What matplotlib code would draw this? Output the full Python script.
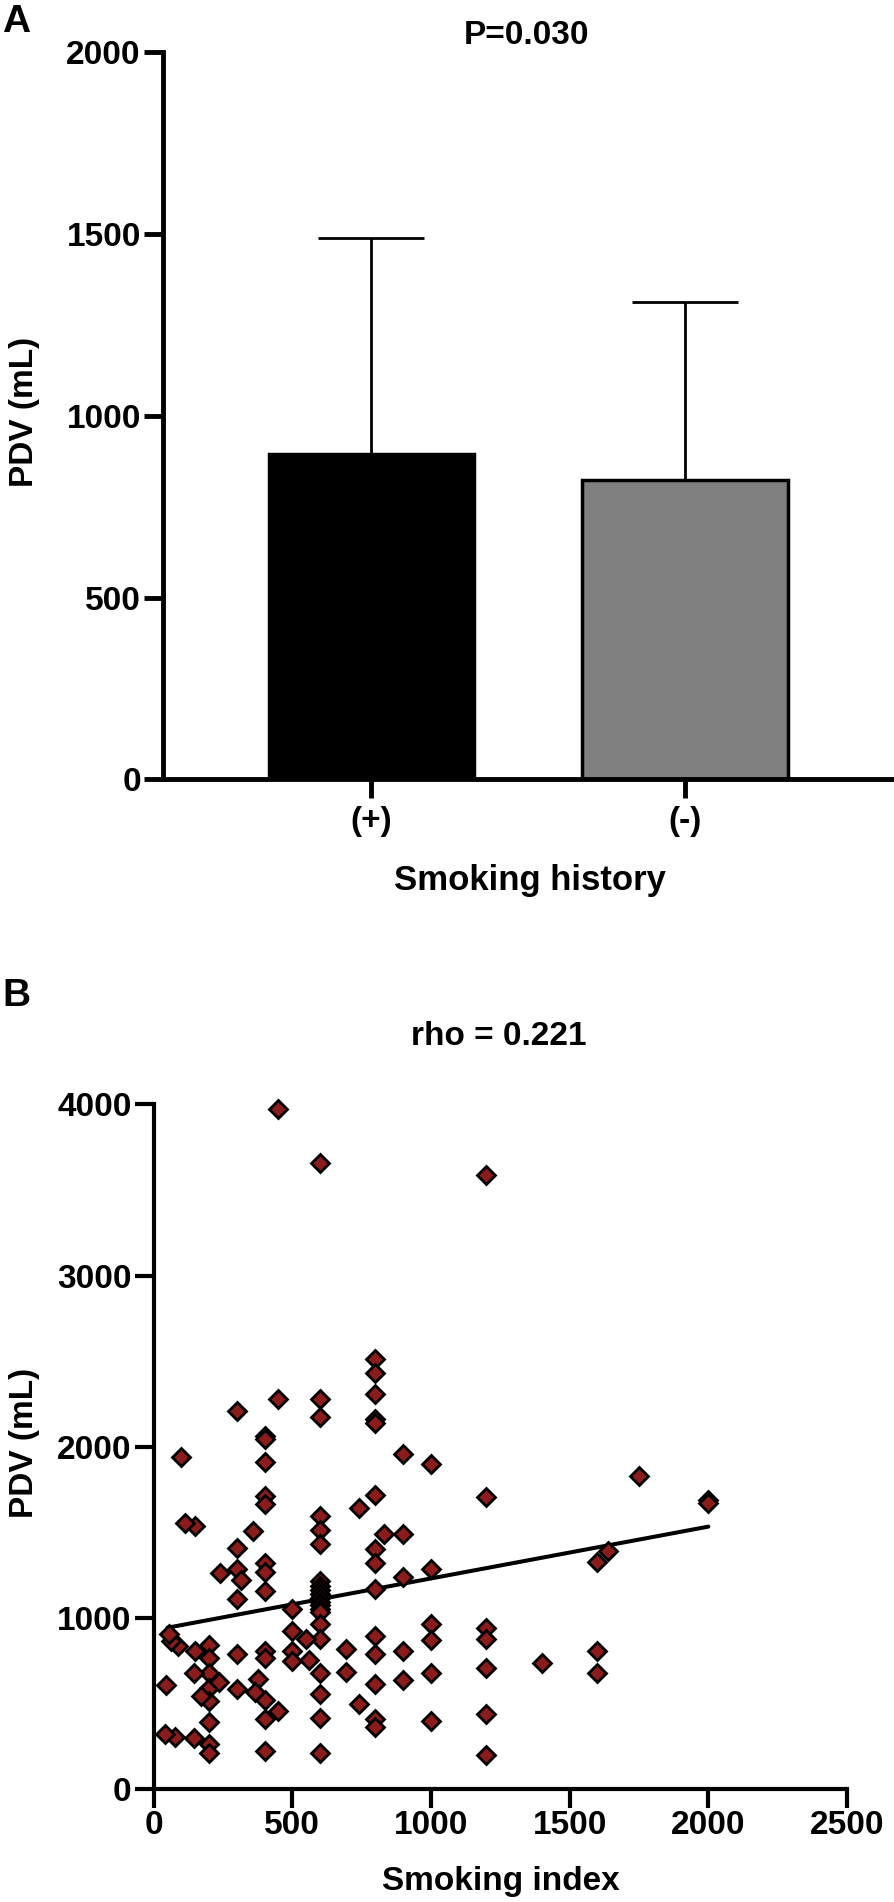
import numpy as np
import matplotlib
matplotlib.use("Agg")
import matplotlib.pyplot as plt

plt.rcParams['font.family'] = ['Liberation Sans', 'DejaVu Sans']
plt.rcParams['font.weight'] = 'bold'

# Panel A: PDV by smoking history (mean + SD)
groups = ['(+)', '(-)']
pdv_mean = [895, 824]
pdv_sd = [594, 488]
bar_colors = ['black', '#808080']

# Panel B: PDV vs smoking index
smoking_index = [
    800, 800, 800, 800, 800, 800, 800, 800, 800, 800, 800, 800, 800, 800,
    600, 600, 600, 600, 600, 600, 600, 600, 600, 600, 600, 600, 600, 600,
    600, 600, 600, 600, 600, 600, 600,
    400, 400, 400, 400, 400, 400, 400, 400, 400, 400, 400, 400, 400,
    200, 200, 200, 200, 200, 200, 200, 200,
    300, 300, 300, 300, 300, 300,
    500, 500, 500, 500,
    900, 900, 900, 900, 900,
    1000, 1000, 1000, 1000, 1000, 1000,
    1200, 1200, 1200, 1200, 1200, 1200, 1200,
    1600, 1600, 1600,
    2000, 2000,
    450, 450, 450, 360, 375, 365, 315, 240, 235, 170, 150, 150, 146, 146,
    112, 100, 88, 76, 64, 54, 46, 40, 693, 693, 741, 741, 829, 1400, 1640,
    1750, 550, 560,
]
pdv_ml = [
    2510, 2430, 2307, 2160, 2140, 1717, 1401, 1324, 1168, 895, 788, 613, 409, 366,
    3660, 2281, 2174, 1596, 1512, 1431, 1215, 1190, 1165, 1140, 1115, 1095, 1075, 1055,
    1035, 963, 876, 681, 555, 419, 210,
    2063, 2044, 1911, 1713, 1664, 1324, 1269, 1158, 808, 769, 520, 413, 224,
    841, 769, 681, 594, 516, 393, 263, 214,
    2209, 1411, 1289, 1109, 788, 588,
    1051, 925, 808, 749,
    1960, 1489, 1242, 808, 638,
    1898, 1289, 967, 870, 677, 399,
    3590, 1709, 944, 876, 711, 438, 199,
    1327, 808, 677,
    1690, 1670,
    3970, 2281, 460, 1509, 642, 570, 1222, 1265, 629, 545, 1538, 808, 681, 302,
    1553, 1940, 837, 308, 866, 905, 609, 321, 818, 685, 1645, 500, 1489, 740, 1392,
    1830, 876, 755,
]
# regression line
fit_slope = 0.3026
fit_intercept = 929
fit_range = [50, 2000]

W, H = 894, 1902
fig = plt.figure(figsize=(W / 100, H / 100), dpi=100)


def box(left, right, top, bottom):
    return [left / W, 1 - bottom / H, (right - left) / W, (bottom - top) / H]


def style_axes(ax, lw):
    for s in ['top', 'right']:
        ax.spines[s].set_visible(False)
    for s in ['left', 'bottom']:
        ax.spines[s].set_linewidth(lw)
    ax.tick_params(width=lw, length=14, labelsize=24, pad=2)
    for lab in ax.get_xticklabels() + ax.get_yticklabels():
        lab.set_fontweight('bold')


# ---- Panel A ----
axA = fig.add_axes(box(163, 894, 52.3, 779.3))
x = np.arange(len(groups))
axA.bar(x, pdv_mean, 0.655, color=bar_colors, edgecolor='black', linewidth=2.5, zorder=2)
axA.errorbar(x, pdv_mean, yerr=[[0, 0], pdv_sd], fmt='none', ecolor='black',
             elinewidth=2, capsize=38, capthick=2, zorder=1)
axA.set_xlim(-0.664, 1.666)
axA.set_ylim(0, 2000)
axA.set_yticks([0, 500, 1000, 1500, 2000])
axA.set_xticks(x)
axA.set_xticklabels(groups)
style_axes(axA, 3.5)
axA.tick_params(axis='x', pad=5)

# ---- Panel B ----
axB = fig.add_axes(box(153.6, 847, 1104.3, 1789.4))
axB.plot(fit_range, [fit_intercept + fit_slope * v for v in fit_range],
         color='black', lw=2.9, solid_capstyle='round', zorder=2)
axB.plot(smoking_index, pdv_ml, 'D', ms=9, mfc='#8a1c1c', mec='black', mew=2,
         clip_on=False, zorder=3)
axB.set_xlim(0, 2500)
axB.set_ylim(0, 4000)
axB.set_xticks([0, 500, 1000, 1500, 2000, 2500])
axB.set_yticks([0, 1000, 2000, 3000, 4000])
style_axes(axB, 3)
axB.tick_params(axis='x', pad=1)

# ---- Texts ----
def ftext(px, py, s, **kw):
    fig.text(px / W, 1 - py / H, s, fontweight='bold', **kw)

ftext(2, 4, 'A', fontsize=28, ha='left', va='top')
ftext(2, 978, 'B', fontsize=28, ha='left', va='top')
ftext(527, 44.5, 'P=0.030', fontsize=24, ha='center', va='baseline')
ftext(499, 1045, 'rho = 0.221', fontsize=24, ha='center', va='baseline')
ftext(25, 412, 'PDV (mL)', fontsize=24, rotation=90, ha='center', va='center')
ftext(25, 1443, 'PDV (mL)', fontsize=24, rotation=90, ha='center', va='center')
ftext(530, 890, 'Smoking history', fontsize=25, ha='center', va='baseline')
ftext(501, 1890, 'Smoking index', fontsize=24, ha='center', va='baseline')

fig.savefig('out.png', dpi=100)
